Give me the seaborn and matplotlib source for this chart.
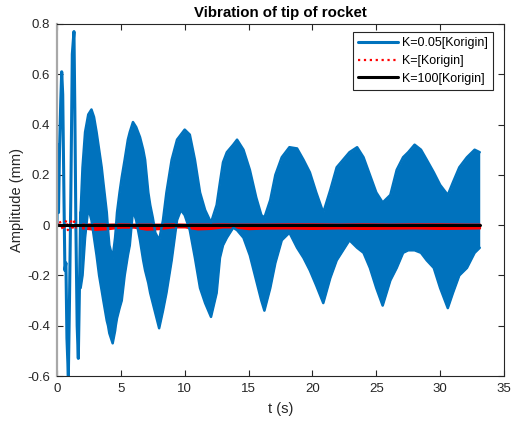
import numpy as np
import pandas as pd
import matplotlib
matplotlib.use("Agg")
import matplotlib.pyplot as plt
import seaborn as sns

# ---------------- data ----------------
# K=0.05 : initial transient (single visible line)
t_start = [0.0, 0.06, 0.12, 0.2, 0.3, 0.37, 0.45, 0.55, 0.62, 0.7, 0.78, 0.89,
           0.98, 1.08, 1.2, 1.33, 1.4, 1.48, 1.58, 1.67, 1.76, 1.85]
v_start = [0.0, 0.32, 0.05, 0.30, 0.50, 0.61, 0.52, 0.10, -0.18, -0.15, -0.45, -0.60,
           -0.30, 0.10, 0.68, 0.77, 0.45, 0.0, -0.40, -0.53, -0.25, 0.05]

# K=0.05 : fast vibration band (upper / lower envelope)
t_band = [1.85, 2.0, 2.2, 2.45, 2.7, 2.9, 3.1, 3.3, 3.5, 3.63,
          3.9, 4.0, 4.1, 4.36, 4.55, 4.6, 4.7, 4.9, 5.07, 5.3,
          5.55, 5.7, 5.95, 6.2, 6.5, 6.75, 6.9, 7.15, 7.3, 7.5,
          7.7, 8.0, 8.3, 8.57, 8.98, 9.4, 9.7, 10.0, 10.4, 10.8,
          11.2, 11.6, 12.06, 12.5, 12.76, 13.0, 13.3, 13.8, 14.1, 14.6,
          15.1, 15.6, 16.0, 16.24, 16.7, 17.1, 17.6, 18.2, 18.8, 19.3,
          19.8, 20.3, 20.85, 21.4, 21.9, 22.4, 22.9, 23.5, 24.0, 24.5,
          25.0, 25.5, 26.1, 26.6, 27.1, 27.5, 28.0, 28.5, 28.95, 29.5,
          30.0, 30.6, 31.0, 31.5, 32.1, 32.7, 33.1]
upper = [0.05, 0.23, 0.37, 0.44, 0.46, 0.43, 0.37, 0.30, 0.23, 0.17,
         0.05, -0.02, -0.08, -0.13, -0.05, -0.02, 0.05, 0.13, 0.19, 0.26,
         0.34, 0.37, 0.41, 0.39, 0.35, 0.30, 0.26, 0.13, 0.08, 0.03,
         -0.03, -0.06, 0.02, 0.13, 0.26, 0.34, 0.36, 0.38, 0.36, 0.26,
         0.13, 0.06, 0.01, 0.08, 0.17, 0.25, 0.29, 0.32, 0.34, 0.30,
         0.22, 0.11, 0.04, 0.03, 0.10, 0.20, 0.27, 0.31, 0.305, 0.26,
         0.21, 0.13, 0.05, 0.14, 0.23, 0.26, 0.29, 0.31, 0.27, 0.20,
         0.13, 0.09, 0.12, 0.22, 0.27, 0.29, 0.32, 0.30, 0.26, 0.21,
         0.16, 0.12, 0.17, 0.23, 0.27, 0.30, 0.29]
lower = [-0.25, -0.20, -0.05, 0.07, 0.02, -0.05, -0.12, -0.20, -0.26, -0.30,
         -0.38, -0.40, -0.43, -0.47, -0.42, -0.40, -0.37, -0.33, -0.30, -0.20,
         -0.12, -0.08, 0.06, 0.02, -0.06, -0.14, -0.18, -0.23, -0.27, -0.31,
         -0.35, -0.41, -0.34, -0.27, -0.14, 0.02, 0.06, 0.04, -0.02, -0.13,
         -0.25, -0.31, -0.365, -0.27, -0.13, -0.08, -0.05, -0.01, -0.02, -0.05,
         -0.12, -0.22, -0.30, -0.34, -0.25, -0.15, -0.06, -0.03, -0.09, -0.13,
         -0.18, -0.24, -0.31, -0.21, -0.14, -0.10, -0.06, -0.09, -0.11, -0.17,
         -0.25, -0.32, -0.22, -0.17, -0.11, -0.10, -0.10, -0.11, -0.14, -0.17,
         -0.25, -0.33, -0.27, -0.20, -0.17, -0.11, -0.09]

# K=[Korigin] : small oscillation around zero
t_red = [0.0, 0.2, 0.35, 0.5, 0.65, 0.75, 0.85, 1.0, 1.1, 1.2, 1.35, 1.5, 1.8]
v_red = [0.0, 0.018, -0.005, -0.02, 0.01, 0.02, -0.02, 0.0, 0.02, -0.02, 0.015, -0.01, 0.0]
t_red_band = [1.8, 3.0, 4.0, 5.0, 6.0, 7.0, 8.0, 9.0, 10.0, 11.0, 12.0, 13.0, 14.0,
              15.0, 16.0, 18.0, 20.0, 22.0, 24.0, 26.0, 28.0, 30.0, 32.0, 33.1]
red_up = [0.005, 0.006, 0.005, 0.006, 0.005, 0.005, 0.005, 0.006, 0.005, 0.005, 0.005,
          0.006, 0.005, 0.005, 0.005, 0.006, 0.006, 0.005, 0.006, 0.005, 0.006, 0.006,
          0.005, 0.005]
red_lo = [-0.011, -0.018, -0.015, -0.009, -0.009, -0.017, -0.015, -0.008, -0.008,
          -0.016, -0.014, -0.008, -0.009, -0.015, -0.013, -0.012, -0.014, -0.012,
          -0.014, -0.013, -0.012, -0.014, -0.013, -0.012]

# K=100[Korigin]
t_black = [0.0, 33.1]
v_black = [0.0, 0.0]

labels = ["K=0.05[Korigin]", "K=[Korigin]", "K=100[Korigin]"]
x_ticks = [0, 5, 10, 15, 20, 25, 30, 35]
y_ticks = [-0.6, -0.4, -0.2, 0, 0.2, 0.4, 0.6, 0.8]
y_tick_labels = ["-0.6", "-0.4", "-0.2", "0", "0.2", "0.4", "0.6", "0.8"]

# ---------------- plotting ----------------
sns.set_theme(style="ticks")
plt.rcParams["font.family"] = ["Liberation Sans", "DejaVu Sans"]
plt.rcParams["axes.unicode_minus"] = False

blue = "#0072BD"
fig = plt.figure(figsize=(5.11, 4.24), dpi=100)
ax = fig.add_axes([0.1115, 0.1132, 0.8748, 0.8302])

df_start = pd.DataFrame({"t": t_start, "v": v_start})
sns.lineplot(data=df_start, x="t", y="v", ax=ax, color=blue, linewidth=2.2,
             sort=False, label=labels[0])
ax.fill_between(t_band, lower, upper, color=blue, linewidth=0)
df_up = pd.DataFrame({"t": t_band, "v": upper})
df_lo = pd.DataFrame({"t": t_band, "v": lower})
sns.lineplot(data=df_up, x="t", y="v", ax=ax, color=blue, linewidth=1.8, sort=False)
sns.lineplot(data=df_lo, x="t", y="v", ax=ax, color=blue, linewidth=1.8, sort=False)

df_red = pd.DataFrame({"t": t_red, "v": v_red})
sns.lineplot(data=df_red, x="t", y="v", ax=ax, color="red", linewidth=1.6,
             linestyle=":", sort=False, label=labels[1])
ax.fill_between(t_red_band, red_lo, red_up, color="red", linewidth=1.2,
                edgecolor="red")

df_black = pd.DataFrame({"t": t_black, "v": v_black})
sns.lineplot(data=df_black, x="t", y="v", ax=ax, color="black", linewidth=2.2,
             label=labels[2])

ax.set_xlim(0, 35)
ax.set_ylim(-0.6, 0.8)
ax.set_xticks(x_ticks)
ax.set_yticks(y_ticks)
ax.set_xticklabels([str(v) for v in x_ticks])
ax.set_yticklabels(y_tick_labels)
ax.tick_params(direction="in", length=4, width=0.8, colors="#262626",
               labelsize=9.5, top=True, right=True, pad=5)
for s in ax.spines.values():
    s.set_visible(True)
    s.set_color("#262626")
    s.set_linewidth(0.8)
ax.spines["left"].set_color("#a8a8a8")
ax.spines["left"].set_linewidth(1.6)

ax.set_title("Vibration of tip of rocket", fontsize=10.8, fontweight="bold",
             color="black", pad=5)
ax.set_xlabel("t (s)", fontsize=10.5, color="#262626", labelpad=5)
ax.set_ylabel("Amplitude (mm)", fontsize=10.5, color="#262626", labelpad=2)

leg = ax.legend(loc="upper right", bbox_to_anchor=(0.975, 0.976), borderaxespad=0,
                fontsize=9, frameon=True, fancybox=False, framealpha=1,
                edgecolor="#262626", handlelength=3.2, handletextpad=0.3,
                labelspacing=0.45, borderpad=0.4)
leg.get_frame().set_linewidth(0.8)
for text in leg.get_texts():
    text.set_color("black")

fig.savefig("out.png", dpi=100)
